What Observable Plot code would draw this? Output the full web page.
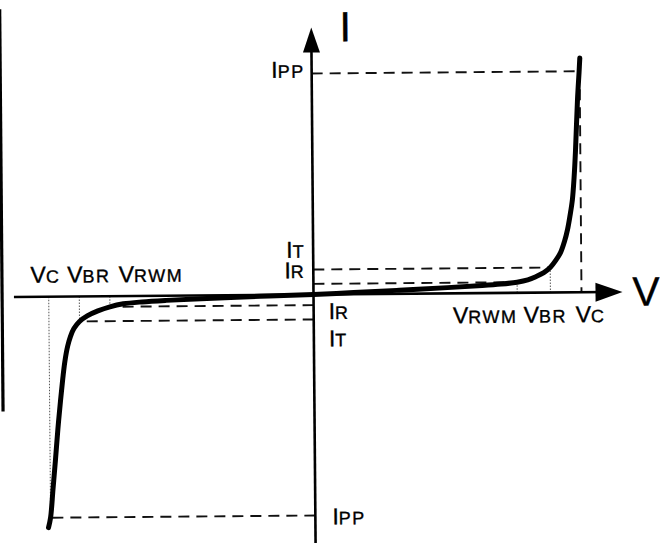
<!DOCTYPE html>
<html><head><meta charset="utf-8">
<script src="https://cdn.jsdelivr.net/npm/d3@7"></script>
<script src="https://cdn.jsdelivr.net/npm/@observablehq/plot@0.6"></script>
<style>
html,body{margin:0;padding:0;background:#fff;}
#chart svg{display:block;transform:rotate(-0.48deg);transform-origin:313px 294px;}
</style></head><body><div id="chart"></div>
<script>
// TVS diode I–V characteristic, normalized units (V: VC = 10, I: IPP = 10)
// positive (first-quadrant) branch
const posV = [0, 1.5, 3.2, 5.0, 6.3, 7.0, 7.6, 8.0, 8.3, 8.6, 8.84, 9.05, 9.23, 9.38, 9.5, 9.6, 9.69, 9.76, 9.82, 9.91, 9.98, 10.01];
const posI = [0, 0.07, 0.16, 0.26, 0.34, 0.4, 0.48, 0.58, 0.72, 0.9, 1.13, 1.45, 1.8, 2.3, 2.85, 3.5, 4.2, 5.2, 6.4, 8.7, 10.0, 10.6];
// negative (third-quadrant) branch
const negV = [0, -2.0, -4.2, -5.5, -6.4, -7.1, -7.6, -8.05, -8.45, -8.74, -8.95, -9.08, -9.19, -9.3, -9.38, -9.47, -9.58, -9.68, -9.78, -9.88, -9.96];
const negI = [0, -0.06, -0.15, -0.21, -0.27, -0.35, -0.48, -0.66, -0.88, -1.13, -1.45, -1.8, -2.25, -2.95, -3.7, -4.68, -6.0, -7.39, -8.7, -10.0, -10.45];

// characteristic points: VRWM, VBR, VC and IR, IT, IPP
const voltLabels = ["V_RWM", "V_BR", "V_C"];
const posVolt = [7.6, 8.84, 10.0];
const negVolt = [-7.6, -8.74, -9.88];
const currLabels = ["I_R", "I_T", "I_PP"];
const posCurr = [0.48, 1.13, 10.0];
const negCurr = [-0.48, -1.13, -10.0];

// axis extents
const vAxis = [-11.16, 11.53];
const iAxis = [-11.3, 12.08];
const frameBar = [-11.62, 13.0, -5.2];

const curvePts = negV.map((v, k) => ({v, i: negI[k]})).reverse()
  .concat(posV.slice(1).map((v, k) => ({v, i: posI[k + 1]})));

const dashed = [
  {x1: 0, y1: posCurr[2], x2: posVolt[2], y2: posCurr[2]},
  {x1: 0, y1: posCurr[1], x2: posVolt[1], y2: posCurr[1]},
  {x1: 0, y1: posCurr[0], x2: posVolt[0], y2: posCurr[0]},
  {x1: 0, y1: negCurr[0], x2: negVolt[0], y2: negCurr[0]},
  {x1: 0, y1: negCurr[1], x2: negVolt[1], y2: negCurr[1]},
  {x1: 0, y1: negCurr[2], x2: negVolt[2], y2: negCurr[2]},
  {x1: posVolt[2], y1: posCurr[2], x2: posVolt[2], y2: 0}
];
const dotted = [
  {x1: posVolt[0], y1: posCurr[0], x2: posVolt[0], y2: 0},
  {x1: posVolt[1], y1: posCurr[1], x2: posVolt[1], y2: 0},
  {x1: negVolt[0], y1: 0, x2: negVolt[0], y2: negCurr[0]},
  {x1: negVolt[1], y1: 0, x2: negVolt[1], y2: negCurr[1]},
  {x1: negVolt[2], y1: 0, x2: negVolt[2], y2: negCurr[2]}
];

const upHead = {draw(c) { c.moveTo(0, 0); c.lineTo(8.5, 25); c.lineTo(-8.5, 25); c.closePath(); }};
const rightHead = {draw(c) { c.moveTo(0, 0); c.lineTo(-27, -9.5); c.lineTo(-27, 9.5); c.closePath(); }};

function label(x, y, text, anchor, dx, dy, size = 23) {
  return Plot.text([{x, y, text}], {x: "x", y: "y", text: "text", textAnchor: anchor, lineAnchor: "bottom",
    dx, dy, fontSize: size, fill: "black", stroke: "black", strokeWidth: 0.35});
}

const chart = Plot.plot({
  width: 668, height: 543,
  marginTop: 0, marginRight: 0, marginBottom: 0, marginLeft: 0,
  x: {domain: [-313 / 26.8, 355 / 26.8], axis: null},
  y: {domain: [-249 / 22.1, 294 / 22.1], axis: null},
  style: {fontFamily: "'Liberation Sans', Arial, sans-serif", background: "white", color: "black", overflow: "hidden"},
  marks: [
    Plot.ruleX([frameBar[0]], {y1: frameBar[1], y2: frameBar[2], strokeWidth: 3.2, stroke: "black"}),
    Plot.link(dotted, {x1: "x1", y1: "y1", x2: "x2", y2: "y2", stroke: "#555", strokeWidth: 1, strokeDasharray: "1.5,1.5"}),
    Plot.link(dashed, {x1: "x1", y1: "y1", x2: "x2", y2: "y2", stroke: "#111", strokeWidth: 1.9, strokeDasharray: "11,7"}),
    Plot.ruleY([0], {x1: vAxis[0], x2: vAxis[1] - 0.5, strokeWidth: 2.6, stroke: "black"}),
    Plot.ruleX([0], {y1: iAxis[0], y2: iAxis[1] - 0.5, strokeWidth: 2.6, stroke: "black"}),
    Plot.dot([{x: 0, y: iAxis[1]}], {x: "x", y: "y", symbol: upHead, fill: "black", stroke: "none"}),
    Plot.dot([{x: vAxis[1], y: 0}], {x: "x", y: "y", symbol: rightHead, fill: "black", stroke: "none"}),
    Plot.line(curvePts, {x: "v", y: "i", curve: "catmull-rom", stroke: "black", strokeWidth: 5,
      strokeLinecap: "round", strokeLinejoin: "round"}),
    // axis titles
    label(0, iAxis[1], "I", "start", 28, 14, 42),
    label(vAxis[1], 0, "V", "start", 10, 14, 41),
    // current labels
    label(0, posCurr[2], currLabels[2], "end", -7, 4),
    label(0, posCurr[1], currLabels[1], "end", -8, -12),
    label(0, posCurr[0], currLabels[0], "end", -8, -6),
    label(0, negCurr[0], currLabels[0], "start", 15, 14),
    label(0, negCurr[1], currLabels[1], "start", 15, 27),
    label(0, negCurr[2], currLabels[2], "start", 17, 9),
    // voltage labels, left
    label(negVolt[2], 0, voltLabels[2], "start", -18, -14),
    label(negVolt[1], 0, voltLabels[1], "start", -12, -14),
    label(negVolt[0], 0, voltLabels[0], "start", 9, -14),
    // voltage labels, right
    label(posVolt[0], 0, voltLabels[0], "end", 0, 30),
    label(posVolt[1], 0, voltLabels[1], "start", -27, 30),
    label(posVolt[2], 0, voltLabels[2], "start", -6, 30)
  ]
});

chart.querySelectorAll("text").forEach(t => {
  const s = t.textContent;
  const k = s.indexOf("_");
  if (k < 0) return;
  t.textContent = s.slice(0, k);
  const ts = document.createElementNS("http://www.w3.org/2000/svg", "tspan");
  ts.setAttribute("font-size", 18);
  ts.setAttribute("letter-spacing", 1.5);
  ts.textContent = s.slice(k + 1);
  t.appendChild(ts);
});

document.getElementById("chart").appendChild(chart);
</script></body></html>
